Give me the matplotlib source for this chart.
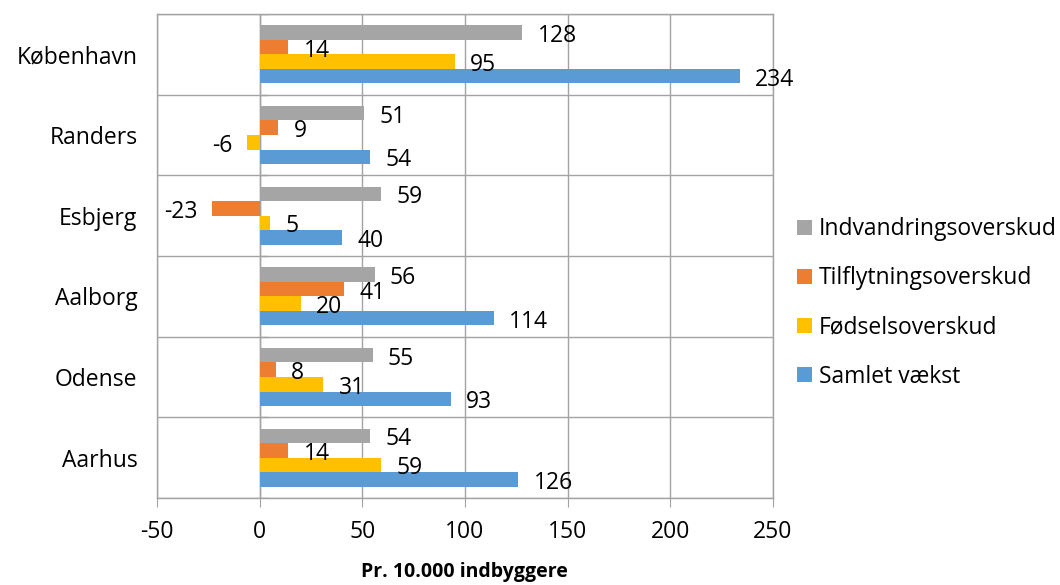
import numpy as np
import matplotlib.pyplot as plt

# Data (bottom to top, as drawn)
cities = ['Aarhus', 'Odense', 'Aalborg', 'Esbjerg', 'Randers', 'København']
indvandring = [54, 55, 56, 59, 51, 128]
tilflytning = [14, 8, 41, -23, 9, 14]
foedsel = [59, 31, 20, 5, -6, 95]
samlet = [126, 93, 114, 40, 54, 234]

series = [
    ('Indvandringsoverskud', indvandring, '#A5A5A5'),
    ('Tilflytningsoverskud', tilflytning, '#ED7D31'),
    ('Fødselsoverskud', foedsel, '#FFC000'),
    ('Samlet vækst', samlet, '#5B9BD5'),
]

plt.rcParams['font.family'] = ['Open Sans', 'DejaVu Sans']
plt.rcParams['axes.unicode_minus'] = False
grid_col = '#a3a3a3'

fig = plt.figure(figsize=(10.6, 5.85), dpi=100)
ax = fig.add_axes([0.1481, 0.1487, 0.581, 0.8274])

y = np.arange(len(cities))
h = 0.18
offsets = [0.27, 0.09, -0.09, -0.27]

handles = []
for (name, vals, col), off in zip(series, offsets):
    bars = ax.barh(y + off, vals, height=h, color=col, label=name, zorder=3)
    handles.append(bars)
    for yy, v in zip(y + off, vals):
        if v >= 0:
            ax.annotate(str(v), (v, yy), xytext=(11, -2.5), textcoords='offset points',
                        ha='left', va='center', fontsize=16.5, color='black', zorder=4)
        else:
            ax.annotate(str(v), (v, yy), xytext=(-11, -2.5), textcoords='offset points',
                        ha='right', va='center', fontsize=16.5, color='black', zorder=4)

ax.set_xlim(-50, 250)
ax.set_ylim(-0.5, len(cities) - 0.5)
ax.set_xticks(np.arange(-50, 251, 50))
ax.set_yticks(y)
ax.set_yticklabels(cities)
ax.set_yticks(np.arange(-0.5, len(cities), 1), minor=True)

ax.grid(axis='x', which='major', color=grid_col, lw=1, zorder=0)
ax.grid(axis='y', which='minor', color=grid_col, lw=1, zorder=0)
ax.axvline(0, color=grid_col, lw=1, zorder=2)
# small tick marks on the zero axis at category boundaries
ax.hlines(np.arange(-0.5, len(cities), 1), 0, 4, color=grid_col, lw=1, zorder=2)

for s in ax.spines.values():
    s.set_color(grid_col)
    s.set_linewidth(1)

ax.tick_params(axis='x', which='major', length=6.5, color=grid_col, labelsize=16.5, pad=9)
ax.tick_params(axis='y', which='both', length=0, labelsize=16.5, pad=14)

ax.set_xlabel('Pr. 10.000 indbyggere', fontsize=14, fontweight='bold', labelpad=13)

fig.legend(handles=handles, loc='center left', bbox_to_anchor=(0.752, 0.482),
           frameon=False, fontsize=16.5, handlelength=0.65, handleheight=0.65,
           handletextpad=0.3, labelspacing=1.1, borderpad=0, borderaxespad=0)

fig.savefig('out.png', dpi=100)
